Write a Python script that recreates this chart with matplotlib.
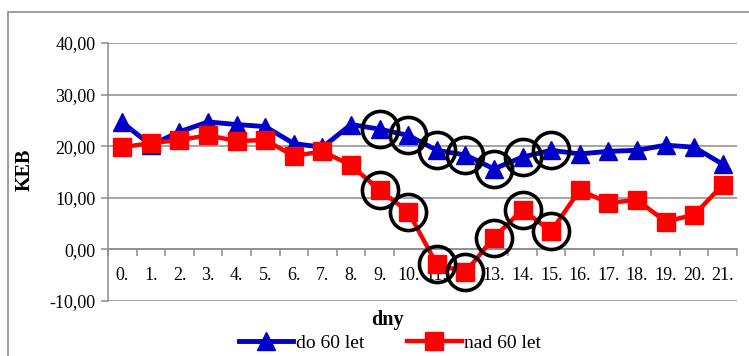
import matplotlib
matplotlib.use("Agg")
import matplotlib.pyplot as plt
from matplotlib.patches import Rectangle
import numpy as np

plt.rcParams['font.family'] = ['Liberation Serif', 'DejaVu Serif']

days = [f"{i}." for i in range(22)]
do_60 = [24.6, 20.2, 22.8, 24.7, 24.2, 23.8, 20.5, 19.8, 24.2, 23.3, 22.1, 19.2,
         18.3, 15.6, 17.9, 19.2, 18.5, 19.0, 19.2, 20.2, 19.8, 16.5]
nad_60 = [19.8, 20.6, 21.2, 22.1, 21.0, 21.2, 18.1, 19.0, 16.3, 11.5, 7.3, -2.9,
          -4.4, 2.3, 7.7, 3.5, 11.5, 9.0, 9.6, 5.4, 6.7, 12.5]
circled = [9, 10, 11, 12, 13, 14, 15]
y_ticks = [-10, 0, 10, 20, 30, 40]

W, H = 749, 356
fig = plt.figure(figsize=(W / 100, H / 100), dpi=100)
ax = fig.add_axes([108 / W, 1 - 301 / H, (737 - 108) / W, (301 - 43) / H])

# outer chart frame
fig.patches.append(Rectangle((8 / W, -0.2), 1.2, 1.2 - 12 / H,
                             transform=fig.transFigure, fill=False,
                             edgecolor='#8c8c8c', linewidth=1.2, clip_on=False))

x = np.arange(len(days))
grid_c = '#8c8c8c'

for v in y_ticks:
    ax.axhline(v, color=grid_c, lw=1.1, zorder=1)

ax.plot(x, do_60, color='#0000c8', lw=3.5, marker='^', ms=13, mew=1,
        label='do 60 let', zorder=3)
ax.plot(x, nad_60, color='#ff0000', lw=3.2, marker='s', ms=12.5, mew=1,
        label='nad 60 let', zorder=4)

cx = np.array(circled)
ax.plot(cx, np.array(do_60)[cx], ls='none', marker='o', ms=26, mfc='none',
        mec='black', mew=2.6, zorder=5)
ax.plot(cx, np.array(nad_60)[cx], ls='none', marker='o', ms=26, mfc='none',
        mec='black', mew=2.6, zorder=5)

ax.set_xlim(-0.5, len(days) - 0.5)
ax.set_ylim(-10, 40)

for s in ['top', 'right']:
    ax.spines[s].set_visible(False)
ax.spines['left'].set_color(grid_c)
ax.spines['left'].set_linewidth(1.1)
ax.spines['bottom'].set_position(('data', 0))
ax.spines['bottom'].set_color(grid_c)
ax.spines['bottom'].set_linewidth(1.1)

ax.set_yticks(y_ticks)
ax.set_yticklabels([f"{v:.2f}".replace('.', ',') for v in y_ticks], fontsize=13)
ax.tick_params(axis='y', length=5, color=grid_c, width=1.1, pad=4)

ax.set_xticks(np.arange(-0.5, len(days), 1))
ax.set_xticklabels([])
ax.tick_params(axis='x', which='major', direction='out', length=5,
               color=grid_c, width=1.1)
ax.set_xticks(x, minor=True)
ax.set_xticklabels(days, minor=True, fontsize=13)
ax.tick_params(axis='x', which='minor', length=0, pad=13)

fig.text(387 / W, 1 - 320 / H, 'dny', ha='center', va='center',
         fontsize=14.5, fontweight='bold')
fig.text(25 / W, 1 - 170 / H, 'KEB', ha='center', va='center',
         rotation=90, fontsize=14.5, fontweight='bold')

fig.legend(loc='center', bbox_to_anchor=(390 / W, 1 - 343 / H), ncol=2,
           frameon=False, fontsize=14, handlelength=2.8, handletextpad=0.15,
           columnspacing=2.2, borderpad=0, borderaxespad=0)

fig.savefig('out.png', dpi=100)
